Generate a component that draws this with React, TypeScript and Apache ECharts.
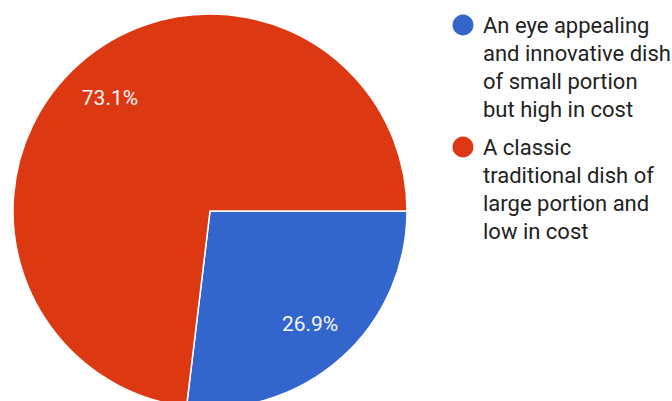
import React, { useEffect, useRef } from "react";
import * as echarts from "echarts";

const categories = [
  "An eye appealing\nand innovative dish\nof small portion\nbut high in cost",
  "A classic\ntraditional dish of\nlarge portion and\nlow in cost",
];
const values = [26.9, 73.1];
const colors = ["#3366CC", "#DC3912"];

export default function App() {
  const ref = useRef<HTMLDivElement>(null);
  useEffect(() => {
    if (!ref.current) return;
    const chart = echarts.init(ref.current, null, { renderer: "svg" });
    const data = categories.map((name, i) => ({ name, value: values[i] }));
    const legendTops = [11, 133];
    const graphic: any[] = [];
    categories.forEach((name, i) => {
      graphic.push({
        type: "circle",
        shape: { cx: 463, cy: legendTops[i] + 14, r: 10.5 },
        style: { fill: colors[i] },
      });
      graphic.push({
        type: "text",
        x: 483,
        y: legendTops[i],
        style: {
          text: name,
          fill: "#222222",
          font: "22px Roboto",
          lineHeight: 28,
          verticalAlign: "top",
          align: "left",
        },
      });
    });
    chart.setOption({
      animation: false,
      backgroundColor: "#ffffff",
      color: colors,
      graphic,
      series: [
        {
          type: "pie",
          center: [210, 211],
          radius: [0, 197],
          startAngle: 0,
          clockwise: true,
          data,
          label: { show: false },
          labelLine: { show: false },
          itemStyle: { borderColor: "#ffffff", borderWidth: 1.5 },
          silent: true,
        },
        {
          type: "pie",
          center: [210, 211],
          radius: [98.5, 197],
          startAngle: 0,
          clockwise: true,
          data,
          itemStyle: { color: "transparent" },
          label: {
            show: true,
            position: "inside",
            formatter: (p: any) => p.value.toFixed(1) + "%",
            color: "#f7f7f7",
            fontFamily: "Roboto",
            fontSize: 21,
          },
          labelLine: { show: false },
          silent: true,
        },
      ],
    });
    return () => chart.dispose();
  }, []);
  return (
    <div
      ref={ref}
      style={{ position: "fixed", left: 0, top: 0, width: 672, height: 401 }}
    />
  );
}
